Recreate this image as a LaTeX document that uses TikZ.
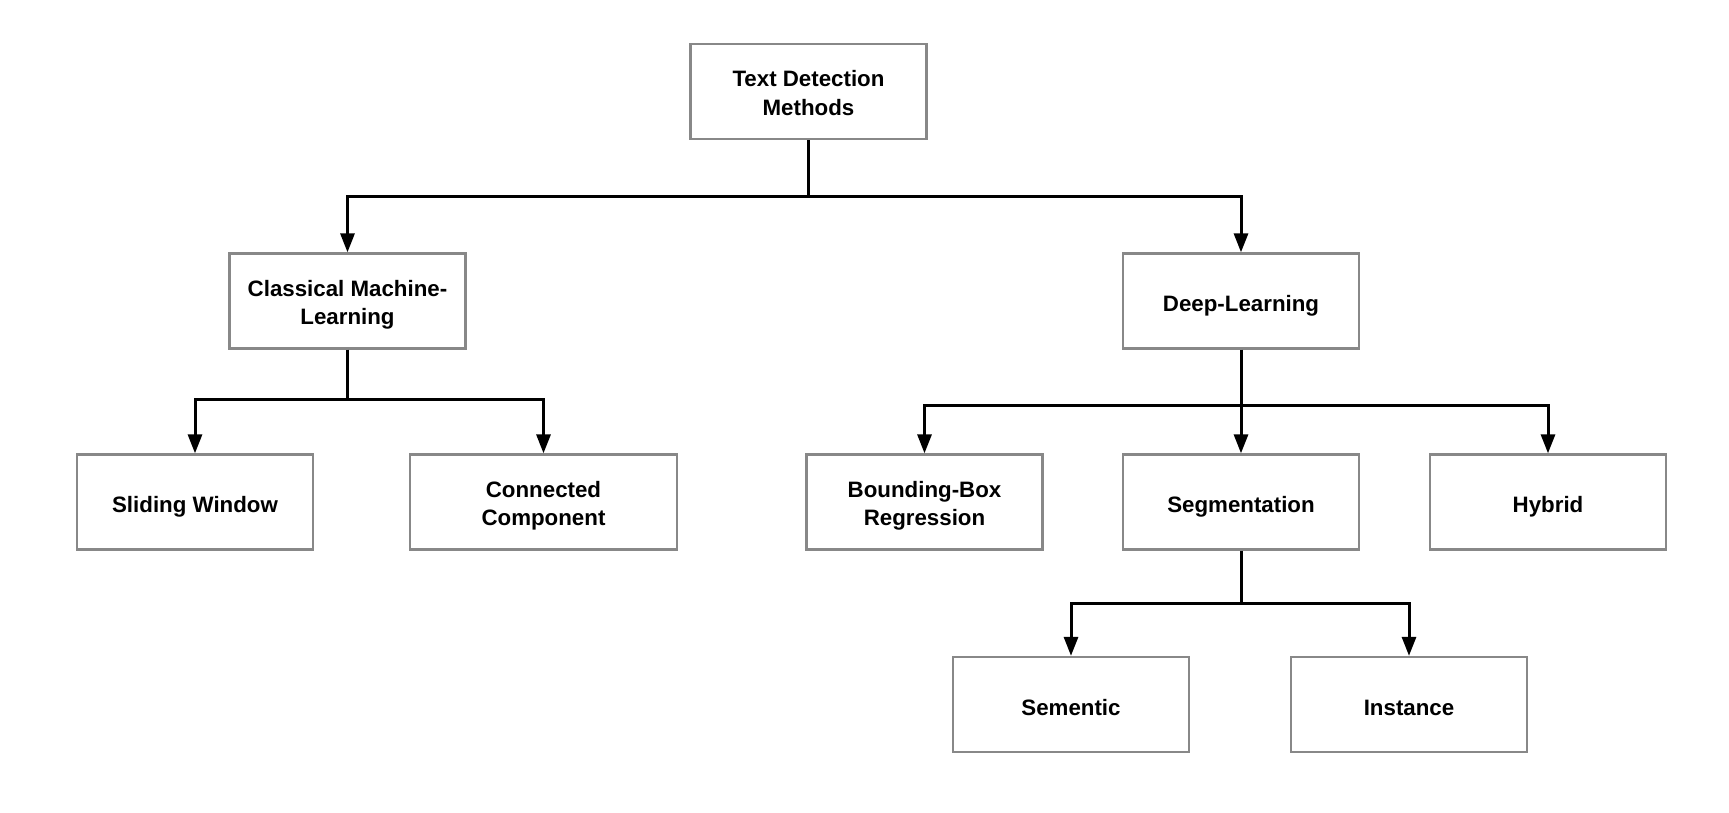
\documentclass[tikz,border=0pt]{standalone}
\usepackage{fontspec}
\setmainfont{Liberation Sans}
\usetikzlibrary{arrows.meta}
\definecolor{boxgray}{RGB}{136,136,136}
\begin{document}
\begin{tikzpicture}[x=1pt,y=-1pt,
  box/.style={draw=boxgray, line width=2.3pt, fill=white, minimum width=236pt, minimum height=95pt,
    align=center, inner sep=0pt, font=\fontsize{22.3}{28.4}\selectfont\bfseries,
    execute at begin node={\rule{0pt}{26.5pt}},
    execute at end node={\rule[-5.5pt]{0pt}{5.5pt}}},
  twoline/.style={execute at begin node={\rule{0pt}{53pt}}},
  conn/.style={line width=3pt, black, line join=miter},
  arr/.style={conn, -{Triangle[length=19pt,width=14pt]}}]
\useasboundingbox (0,0) rectangle (1729,812);
\fill[white] (0,0) rectangle (1729,812);
% nodes
\node[box, twoline] (root) at (808.5,91.5) {Text Detection\\Methods};
\node[box, twoline] (cml) at (347.5,301) {Classical Machine-\\Learning};
\node[box] (dl) at (1241,301) {Deep-Learning};
\node[box] (sw) at (195,502) {Sliding Window};
\node[box, twoline, minimum width=267pt] (cc) at (543.5,502) {Connected\\Component};
\node[box, twoline] (bb) at (924.5,502) {Bounding-Box\\Regression};
\node[box] (seg) at (1241,502) {Segmentation};
\node[box] (hy) at (1548,502) {Hybrid};
\node[box] (sem) at (1071,704.5) {Sementic};
\node[box] (ins) at (1409,704.5) {Instance};
% junctions
\coordinate (j0) at (808.5,196);
\coordinate (j1) at (347.5,399);
\coordinate (j2) at (1241,405);
\coordinate (j3) at (1241,603);
% connectors
\draw[conn] (root.south) -- (j0);
\draw[arr] (j0) -| (cml.north);
\draw[arr] (j0) -| (dl.north);
\draw[conn] (cml.south) -- (j1);
\draw[arr] (j1) -| (sw.north);
\draw[arr] (j1) -| (cc.north);
\draw[arr] (dl.south) -- (seg.north);
\draw[arr] (j2) -| (bb.north);
\draw[arr] (j2) -| (hy.north);
\draw[conn] (seg.south) -- (j3);
\draw[arr] (j3) -| (sem.north);
\draw[arr] (j3) -| (ins.north);
\end{tikzpicture}
\end{document}
